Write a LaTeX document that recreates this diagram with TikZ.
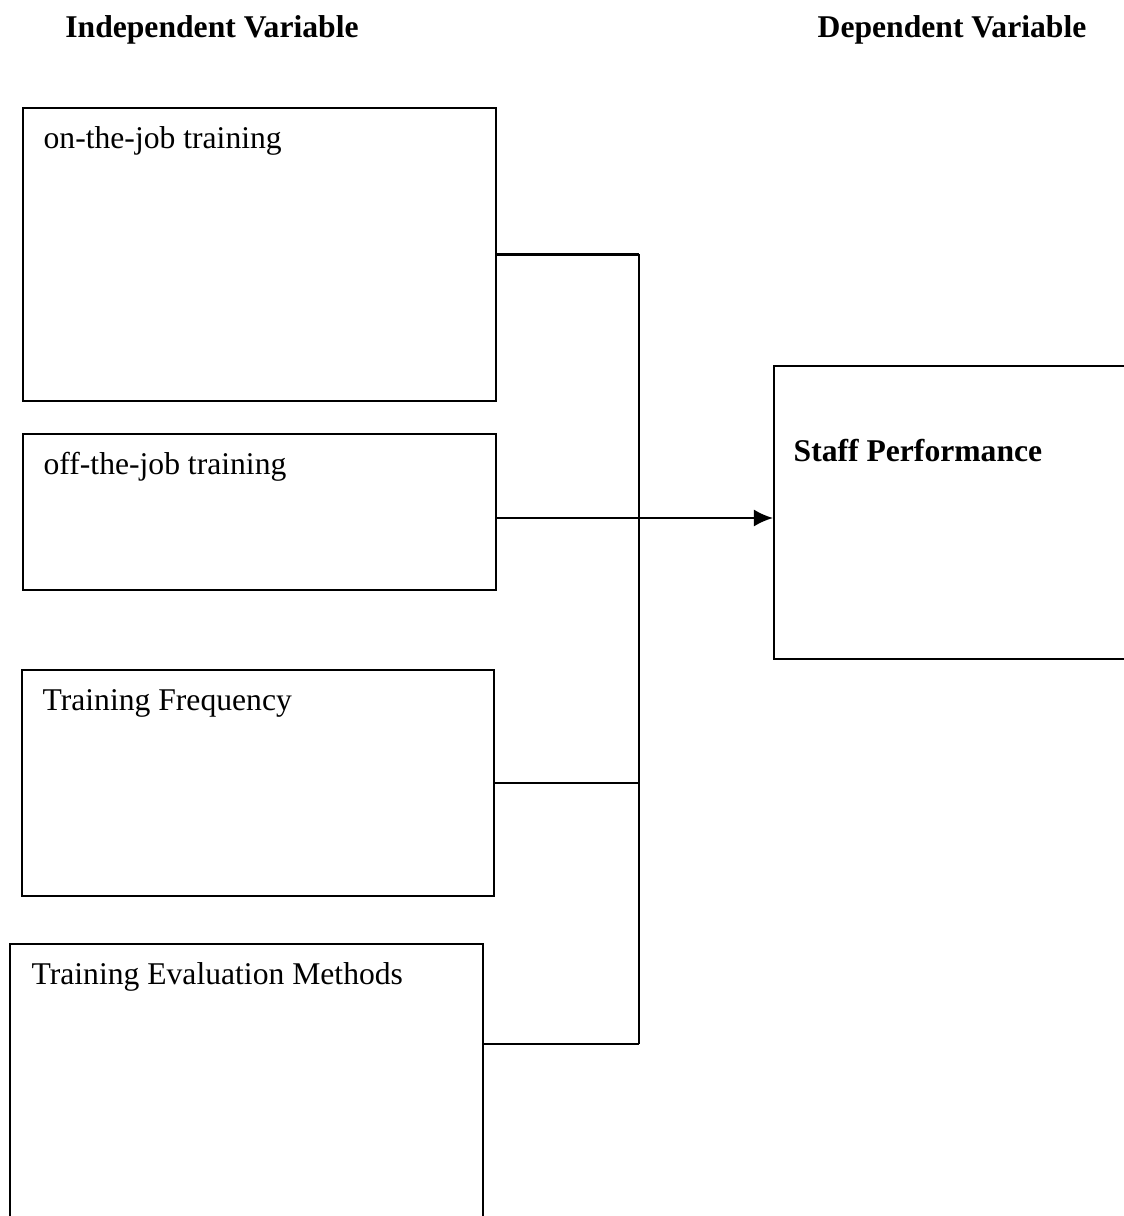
\documentclass[tikz,border=0pt]{standalone}
\usepackage{fontspec}
\setmainfont{Liberation Serif}
\usetikzlibrary{arrows.meta,positioning}

\tikzset{
  varbox/.style={rectangle, draw, line width=0.6pt, inner sep=0pt},
  boxtext/.style={anchor=base west, inner sep=0pt},
  boldtext/.style={inner sep=0pt, font=\fontsize{9pt}{11pt}\selectfont\bfseries},
  link/.style={line width=0.6pt}
}

\begin{document}
\begin{tikzpicture}[font=\fontsize{9pt}{11pt}\selectfont]

% cornice
\useasboundingbox (0,0) rectangle (11.24,-12.16);
\clip (0,0) rectangle (11.24,-12.16);

% ======================================================
% Titoli
% ======================================================
\node[boldtext, anchor=base] (indep) at (2.12,-0.38) {Independent Variable};
\node[boldtext, anchor=base] (dep) at (9.52,-0.38) {Dependent Variable};

% ======================================================
% Variabili indipendenti
% ======================================================
\node[varbox,
    minimum width = 4.73cm,
    minimum height = 2.93cm] (onjob) at (2.595,-2.545) {};
\node[varbox,
    minimum width = 4.73cm,
    minimum height = 1.56cm] (offjob) at (2.595,-5.12) {};
\node[varbox,
    minimum width = 4.72cm,
    minimum height = 2.26cm] (freq) at (2.58,-7.83) {};
\node[varbox,
    minimum width = 4.73cm,
    minimum height = 2.96cm] (evalm) at (2.465,-10.92) {};

% Etichette
\node[boxtext] (onjobtxt) at ([shift={(0.21,-0.42)}]onjob.north west) {on-the-job training};
\node[boxtext] (offjobtxt) at ([shift={(0.21,-0.42)}]offjob.north west) {off-the-job training};
\node[boxtext] (freqtxt) at ([shift={(0.21,-0.42)}]freq.north west) {Training Frequency};
\node[boxtext] (evalmtxt) at ([shift={(0.22,-0.42)}]evalm.north west) {Training Evaluation Methods};

% ======================================================
% Variabile dipendente
% ======================================================
\node[varbox,
    minimum width = 3.66cm,
    minimum height = 2.93cm] (perf) at (9.57,-5.125) {};
\node[boldtext, anchor=base west] (perftxt) at ([shift={(0.20,-0.97)}]perf.north west) {Staff Performance};

% ======================================================
% Collegamenti
% ======================================================
\coordinate (bus) at (6.39,-2.52);
\coordinate (e4) at ([yshift=-1.01cm]evalm.north east);

\draw[link] (onjob.east) -- (onjob.east -| bus);
\draw[link] (freq.east) -- (freq.east -| bus);
\draw[link] (e4) -- (e4 -| bus);
\draw[link] (onjob.east -| bus) -- (e4 -| bus);

\draw[link, -{Latex[length=1.9mm, width=1.7mm]}]
  ([yshift=-0.06cm]offjob.east) -- ([yshift=-0.06cm]offjob.east -| perf.west);

\end{tikzpicture}
\end{document}
